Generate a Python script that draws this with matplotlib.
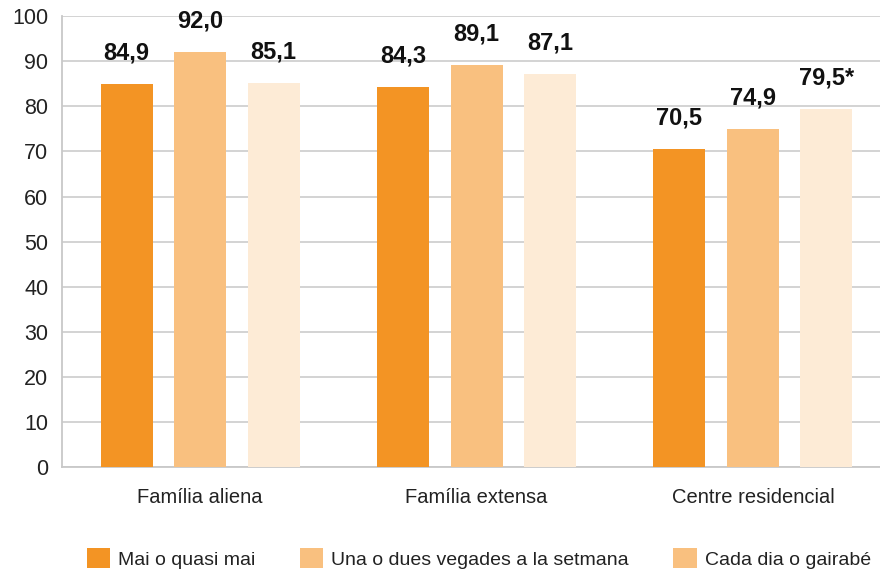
import matplotlib.pyplot as plt
from matplotlib.patches import Patch

# Dades del gràfic
categories = ["Família aliena", "Família extensa", "Centre residencial"]
series_names = ["Mai o quasi mai", "Una o dues vegades a la setmana", "Cada dia o gairabé"]
mai = [84.9, 84.3, 70.5]
setmana = [92.0, 89.1, 74.9]
cada_dia = [85.1, 87.1, 79.5]
labels_mai = ["84,9", "84,3", "70,5"]
labels_setmana = ["92,0", "89,1", "74,9"]
labels_cada_dia = ["85,1", "87,1", "79,5*"]

colors = ["#F39424", "#F9C07F", "#FDEBD6"]
legend_colors = ["#F39424", "#F9C07F", "#F9C07F"]

plt.rcParams['font.family'] = ['Liberation Sans Narrow', 'Liberation Sans', 'DejaVu Sans']


def main():
    fig = plt.figure(figsize=(8.8, 5.76), dpi=100)
    ax = fig.add_axes([0.0705, 0.189, 0.9295, 0.783])

    x = list(range(len(categories)))
    width = 0.188
    offset = 0.266
    series = [(mai, labels_mai), (setmana, labels_setmana), (cada_dia, labels_cada_dia)]
    for i, (vals, labs) in enumerate(series):
        pos = [xi + (i - 1) * offset for xi in x]
        bars = ax.bar(pos, vals, width=width, color=colors[i], zorder=3)
        for b, lab in zip(bars, labs):
            ax.annotate(lab, (b.get_x() + b.get_width() / 2, b.get_height()),
                        xytext=(0, 14), textcoords="offset points",
                        ha="center", va="bottom", fontsize=17, fontweight="bold",
                        color="#111111")

    ax.set_ylim(0, 100)
    ax.set_xlim(-0.5, 2.46)
    ax.set_yticks(range(0, 101, 10))
    ax.set_xticks(x)
    ax.set_xticklabels(categories, fontsize=14.5)
    ax.tick_params(axis="y", labelsize=15.5, length=0, pad=10, colors="#222222")
    ax.tick_params(axis="x", length=0, pad=15, colors="#222222")
    ax.grid(axis="y", color="#D0D0D0", linewidth=1.3, zorder=0)
    for s in ["top", "right"]:
        ax.spines[s].set_visible(False)
    ax.spines["left"].set_color("#C8C8C8")
    ax.spines["left"].set_linewidth(1.3)
    ax.spines["bottom"].set_color("#C8C8C8")
    ax.spines["bottom"].set_linewidth(1.3)

    handles = [Patch(facecolor=c) for c in legend_colors]
    fig.legend(handles, series_names, loc="lower center", bbox_to_anchor=(0.544, -0.018),
               ncol=3, frameon=False, fontsize=14, handlelength=1.2, handleheight=1.2,
               handletextpad=0.4, columnspacing=2.3, labelcolor="#222222")

    fig.savefig("out.png", dpi=100)


if __name__ == "__main__":
    main()
